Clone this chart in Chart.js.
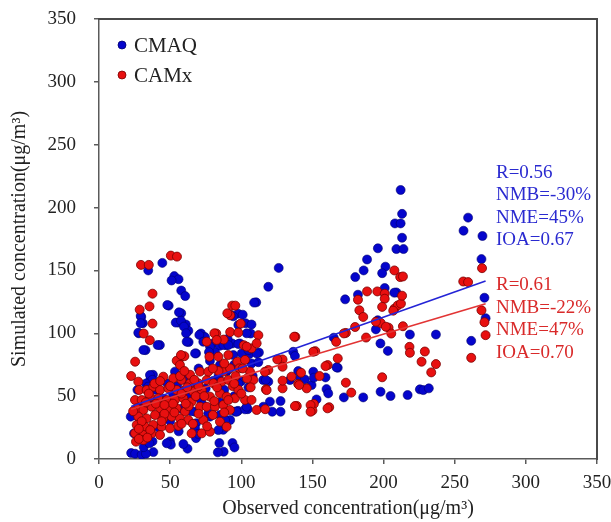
<!DOCTYPE html>
<html>
<head>
<meta charset="utf-8">
<script src="https://cdn.jsdelivr.net/npm/chart.js@4.4.1/dist/chart.umd.min.js"></script>
<style>
  html, body { margin: 0; padding: 0; background: #ffffff; }
</style>
</head>
<body>
<canvas id="c" width="611" height="522"></canvas>
<script>
// ---------- DATA ----------
const seriesNames = ["CMAQ", "CAMx"];
const axisTicks = [0, 50, 100, 150, 200, 250, 300, 350];
const xTitle = "Observed concentration(μg/m³)";
const yTitle = "Simulated concentration(μg/m³)";

// [observed, simulated] pairs
const cmaqPoints = [
  [44.5,156],[34.6,150],[52.9,145.5],[55.9,143],[51,142],[49,122],[57.8,134],[60.6,129.6],[57.8,116],[55.9,108.5],
  [61,107],[62.8,102],[63,93],[29.7,113],[30.8,108],[28,100],[32.7,86.6],[42.8,90.6],[37.9,67],[36,63],[35,60],
  [126.3,152],[119,137],[110.5,124.6],[97.7,115.6],[101,114.8],[94.4,113.5],[103,108],[107.2,107],[106.6,99.8],
  [71.7,99.8],[74.5,97],[68.2,84],[80.2,91.9],[84.8,90],[89.5,90.5],[93.6,91.9],[99,91.9],[101.8,83.4],[105.6,83.4],
  [107.2,76],[112.4,84.7],[81.6,84.7],[92.5,114.6],[97.9,106.6],[109,124.4],[70.5,98.7],[73.3,93.3],[78,89.4],
  [85,74.8],[94.4,82.7],[77.3,85],[90.4,95.5],[103.8,100],
  [212,214],[213,195],[213,176],[208,187.4],[212,187.4],[209,167],[214,167],[196,167.6],[188.4,158.7],[186,150],
  [180.1,144.7],[201.3,153],[199,147.8],[200.8,136],[209,132.5],[182,130.7],[173,127],[195.9,110.4],[197.8,91.9],
  [203,86],[218.5,99],[236.8,99],[256.2,181.6],[259.4,192],[269.5,177.4],[268.8,159],[270.9,128.3],[271.7,112],
  [261.6,94],[165,96.5],[167.8,72.6],[136.5,85.3],[137.7,81.9],[207.5,132.3],[194.6,103.1],
  [115.4,62.8],[134.2,62.8],[141.2,64.1],[144.7,63.3],[149.4,58.8],[150.6,69.4],[159.2,64.9],[166.9,72.9],
  [159.9,55.6],[161.1,52.2],[152.9,47.4],[172.1,49],[185.7,49],[197.9,53.5],[204.9,50.1],[216.9,50.9],[225.5,55.4],
  [227.9,54.8],[231.8,56.2],[120.1,45.6],[127.6,46.1],[121.8,37.6],[127.6,37.6],[104.5,39.6],[97.7,38.3],[119,61.5],
  [140,70],[151,64.7],[117.3,62.9],[115.5,41.6],
  [87.6,5.8],[83.5,5.3],[93.8,12.7],[95.2,9.2],[84.6,12.7],[87.3,23.2],[92.2,31],[62.2,8.2],[38.2,5.5],[22.6,4.8],
  [25.4,4.2],[30,3.4],[33,4.2],[31.4,9.5],[37.6,14],[49.9,14],[50.5,11.4],[68.2,16.6],[47.6,12.5],[35.4,12.5],
  [24.6,20.4],[59.3,11.9],[83.9,23],
  [35.8,66.8],[37.5,63],[33,60],[71.5,47],[78,33.7],[85,35],[88.6,31],[95.6,37.7],[102.6,39.5],[68.2,28.4],
  [67.5,24.4],[69.8,20],[25.3,35],[22.3,33.7],[62.8,65.5],[41.2,90.7],[31.2,86.7],[27.6,100.5],[29.3,113.8],
  [29.3,108],[48,122.5],[56.2,116.7],[53.9,108.5],[57.6,110],[59.7,105.3],[61.2,100],[61.6,93.3],[67.5,84],
  [87.4,90.7],[90.9,90.7],[97.9,91.5],[100.3,84],[105,86.7],[110.8,84],[53.4,69.5],[34.6,57.6],[67.5,37.6],
  [76.8,36.3],[96.7,37.6],[103.8,41.6],
  [30,45],[40,55],[45,48],[55,58],[62,50],[58,40],[75,56],[80,62],[84,66],[90,70],[95,75],[100,62],[105,57],
  [65,38],[73,43],[50,30],[44,36],[28,28],[42,25],[56,22],[60,63],[48,60],[36,48],[32,42],[27,55],[108,66],
  [112,77],[88,55],[95,50],[78,78],[70,72],[66,61],[52,52],[85,45],[98,60]
];

const camxPoints = [
  [29.5,154.4],[35,154.4],[50.5,161.8],[54.8,161],[37.6,131.5],[28.6,118.8],[35.5,121.4],[37.6,107.7],[35.7,94.5],
  [31.4,99.8],[25.4,77.4],[22.6,66],[55.9,78],[60,81.8],
  [93.6,122],[95.8,122],[92.2,114.3],[99.6,107.7],[92.2,101],[112,98.5],[82.4,99.8],[87.6,95],[101.8,90.5],[107.2,88],
  [90.2,115.9],[97.9,100.5],[81.1,100],[82.7,94.7],[75.7,93.3],[103.8,89.4],[110.8,92],[77.6,81.4],[83.9,81.4],
  [90.9,82.7],[97.2,77.4],[102.6,78.8],[54.6,78.2],[56.9,74.8],[57.6,82.7],[106.1,69.5],[108.5,62.9],[106.6,57],
  [102.6,47],[110.8,39],
  [138,97.2],[119,70.8],[129,79.2],[129,73.4],[135.3,65.5],[142,68.6],[140,59.7],[146,56.2],[152,85.8],[155,66],
  [151,43.8],[150,38.5],[139,42.2],[116.8,39.6],[107.2,47],[117.3,55.4],[129,56.2],[129,62.3],[161.8,41.2],
  [160.7,74.7],[166.7,93.2],[167.8,80],[173.5,60.7],[177.3,52.8],[173.5,100.3],[180,105],[182,126.7],[183,118.3],
  [185.7,113],[188.4,133.3],[187.7,96.6],[195.6,133.3],[200.8,131.5],[200.8,127.5],[199,121],[198,108.2],
  [203.5,104.5],[205.4,99.8],[207.6,119.6],[210,122.2],[212.2,123.6],[213,129.9],[211.7,144.7],[213.6,145.2],
  [207.6,150],[213.6,105.6],[218.2,89.2],[218.5,84.5],[199,65],[226.7,77.4],[229,85.5],[233.5,68.9],[236.8,75.5],
  [256,141.2],[259.4,140.7],[269.2,151.8],[268.8,118.3],[270.9,108.8],[271.7,98.5],[261.6,80.5],[150.6,85.3],
  [137.2,97.3],[125.3,79.2],[116.6,69.4],[117.8,54.8],[137.7,42.1],[148.7,42.9],[148.7,37.6],[160.6,40.3],
  [140.7,58.8],[159.2,73.9],[172.1,99.9],[194.6,109.2],[201.6,105.2],[206.8,118],
  [45.2,65.5],[52.2,64.2],[58,62.9],[64,60.2],[69.8,60.2],[75.7,62.9],[80.4,60.2],[86.2,61.5],[90.9,62.9],
  [27.6,61.5],[28.3,54.9],[33.5,54.9],[38.2,57.5],[42.9,54.9],[48.7,56.2],[54.6,54.9],[60.4,54.9],[66.3,53.6],
  [72.2,54.9],[78,49.6],[85,52.2],[89.7,49.6],[95.6,48.3],[25.3,46.9],[30,46.9],[35.9,49.6],[41.7,48.3],[47.6,46.9],
  [53.4,46.9],[59.3,48.3],[65.1,45.6],[71,41.6],[75.7,41.6],[81.5,41.6],[87.4,43],[90.9,46.9],[26.5,40.3],[31.2,39],
  [37,41.6],[42.9,40.3],[48.7,39],[54.6,40.3],[60.4,37.7],[27.6,33.7],[33.5,32.3],[39.4,35],[45.2,32.3],[51.1,33.7],
  [56.9,32.3],[62.8,31],[73.3,31],[85,29.7],[89.7,25.7],[26.5,27.1],[32.3,25.7],[38.2,27.1],[44,25.7],[49.9,24.4],
  [55.8,26.3],[65.1,20.4],[72.2,20.4],[78,21.7],[25.3,20.4],[31.2,19.1],[37,20.4],[42.9,19.1],[26,13.8],[31.2,15.1],
  [71,69.5],[76.8,69.5],[87.4,69.5],[92.1,72.1],[98.6,72.1],
  [35,52],[40,44],[46,36],[52,44],[58,52],[63,42],[68,50],[30,30],[36,23],[44,30],[50,58],[57,66],[64,67],[70,58],
  [83,57],[94,58],[98,55],[80,35],[92,39],[100,52],[28,24],[33,45],[39,60],[43,62],[62,57],[67,63],[74,50],[81,46],
  [84,70],[96,66],[104,64],[28,16],[34,17],[24,38],[66,28],[70,36],[76,26],[58,28],[61,44],[53,37],[46,43],[88,37],
  [95,60],[101,72],[88,76],[80,72],[60,70]
];

// regression line end points [observed, simulated]
const cmaqFit = [[22.6, 41.7], [271.7, 141.5]];
const camxFit = [[22.6, 39.6], [271.7, 123.5]];

// statistics text
const cmaqStats = ["R=0.56", "NMB=-30%", "NME=45%", "IOA=0.67"];
const camxStats = ["R=0.61", "NMB=-22%", "NME=47%", "IOA=0.70"];

// ---------- STYLE ----------
const BLUE = "#0505cc";
const BLUE_EDGE = "#00006e";
const RED = "#e81010";
const RED_EDGE = "#7a0000";
const BLUE_TEXT = "#2a2ad0";
const RED_TEXT = "#d92a2a";
const AXIS = "#5a5a5a";
const FONT = "'Liberation Serif', 'Times New Roman', serif";

const toXY = arr => arr.map(p => ({ x: p[0], y: p[1] }));

// frame drawn from the scale pixels (top = y(350), right = x(350))
const framePlugin = {
  id: "plotFrame",
  afterDraw(chart) {
    const ctx = chart.ctx;
    const xs = chart.scales.x, ys = chart.scales.y;
    const L = Math.round(xs.getPixelForValue(axisTicks[0]));
    const R = Math.round(xs.getPixelForValue(axisTicks[axisTicks.length - 1]));
    const T = Math.round(ys.getPixelForValue(axisTicks[axisTicks.length - 1]));
    const B = Math.round(ys.getPixelForValue(axisTicks[0]));
    ctx.save();
    ctx.globalCompositeOperation = "source-over";
    ctx.globalAlpha = 1;
    ctx.fillStyle = "#4a4a4a";
    ctx.fillRect(L - 1, T - 1, R - L + 2, 2);
    ctx.fillRect(R - 1, T - 1, 2, B - T + 2);
    ctx.restore();
  }
};

const legendPlugin = {
  id: "innerLegend",
  afterDraw(chart) {
    const { ctx, chartArea: a } = chart;
    const items = [
      { name: seriesNames[0], fill: BLUE, edge: BLUE_EDGE, dy: 26 },
      { name: seriesNames[1], fill: RED, edge: RED_EDGE, dy: 56 }
    ];
    ctx.save();
    items.forEach(it => {
      const y = a.top + it.dy;
      ctx.beginPath();
      ctx.arc(a.left + 23, y, 4, 0, Math.PI * 2);
      ctx.fillStyle = it.fill;
      ctx.fill();
      ctx.lineWidth = 0.8;
      ctx.strokeStyle = it.edge;
      ctx.stroke();
      ctx.fillStyle = "#222";
      ctx.font = "21px " + FONT;
      ctx.textBaseline = "middle";
      ctx.textAlign = "left";
      ctx.fillText(it.name, a.left + 35, y + 1);
    });
    ctx.restore();
  }
};

const statsPlugin = {
  id: "statsText",
  afterDraw(chart) {
    const { ctx } = chart;
    const xs = chart.scales.x, ys = chart.scales.y;
    ctx.save();
    ctx.font = "19px " + FONT;
    ctx.textAlign = "left";
    ctx.textBaseline = "middle";
    const x0 = xs.getPixelForValue(279);
    const groups = [
      { lines: cmaqStats, color: BLUE_TEXT, top: ys.getPixelForValue(227.5) },
      { lines: camxStats, color: RED_TEXT, top: ys.getPixelForValue(138) }
    ];
    groups.forEach(g => {
      ctx.fillStyle = g.color;
      g.lines.forEach((t, i) => ctx.fillText(t, x0, g.top + i * 22.5));
    });
    ctx.restore();
  }
};

const zeroPad = s => { s.paddingTop = 0; s.paddingBottom = 0; s.paddingLeft = 0; s.paddingRight = 0; };

new Chart(document.getElementById("c"), {
  type: "scatter",
  data: {
    datasets: [
      { type: "line", label: "CMAQ fit", data: toXY(cmaqFit), borderColor: "#2424d6", borderWidth: 1.6,
        pointRadius: 0, fill: false, order: 0 },
      { type: "line", label: "CAMx fit", data: toXY(camxFit), borderColor: "#e23434", borderWidth: 1.6,
        pointRadius: 0, fill: false, order: 0 },
      { label: seriesNames[1], data: toXY(camxPoints), backgroundColor: RED, borderColor: RED_EDGE,
        borderWidth: 0.8, pointRadius: 4.5, order: 1 },
      { label: seriesNames[0], data: toXY(cmaqPoints), backgroundColor: BLUE, borderColor: BLUE_EDGE,
        borderWidth: 0.6, pointRadius: 4.5, order: 2 }
    ]
  },
  options: {
    responsive: false,
    animation: false,
    devicePixelRatio: 1,
    layout: { padding: { top: 19, right: 14, left: 0, bottom: 0 } },
    plugins: { legend: { display: false }, tooltip: { enabled: false } },
    scales: {
      x: {
        type: "linear", min: 0, max: 350,
        afterBuildTicks: s => { s.ticks = axisTicks.map(v => ({ value: v })); },
        afterFit: s => { s.height = 63; zeroPad(s); },
        grid: { display: true, drawOnChartArea: false, drawTicks: true, tickLength: 5, color: AXIS, lineWidth: 1.5 },
        border: { display: true, color: AXIS, width: 1.5 },
        ticks: { color: "#222", font: { family: FONT, size: 19 }, padding: 8, maxRotation: 0 },
        title: { display: true, text: xTitle, color: "#222", font: { family: FONT, size: 20 }, padding: { top: 0, bottom: 1 } }
      },
      y: {
        type: "linear", min: 0, max: 350,
        afterBuildTicks: s => { s.ticks = axisTicks.map(v => ({ value: v })); },
        afterFit: s => { s.width = 99; zeroPad(s); },
        grid: { display: true, drawOnChartArea: false, drawTicks: true, tickLength: 5, color: AXIS, lineWidth: 1.5 },
        border: { display: true, color: AXIS, width: 1.5 },
        ticks: { color: "#222", font: { family: FONT, size: 19 }, padding: 18 },
        title: { display: true, text: yTitle, color: "#222", font: { family: FONT, size: 20 }, padding: { top: 8, bottom: 0 } }
      }
    }
  },
  plugins: [framePlugin, legendPlugin, statsPlugin]
});
</script>
</body>
</html>
